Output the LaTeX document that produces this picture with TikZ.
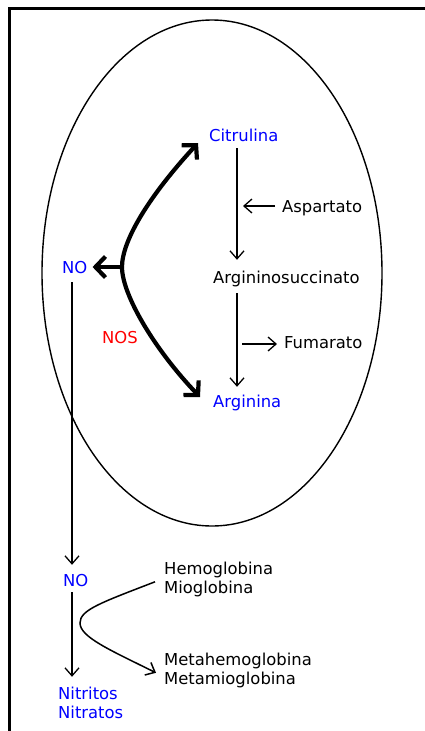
\documentclass[tikz,border=0pt]{standalone}
\usepackage{fontspec}
\setmainfont{DejaVu Sans}
\usetikzlibrary{arrows.meta,shapes.geometric}
\definecolor{nblue}{RGB}{0,0,255}
\definecolor{nred}{RGB}{255,0,0}
\begin{document}
\begin{tikzpicture}[x=1pt,y=-1pt,
  lbl/.style={inner sep=0pt, anchor=base west, text height=12pt, text depth=4pt,
              font=\fontsize{16.4}{19}\selectfont},
  bluelbl/.style={lbl, text=nblue},
  thinarrow/.style={line width=1.3pt, -{Straight Barb[length=8pt,width=14pt]}},
  thickarrow/.style={line width=4.2pt, -{Straight Barb[length=10pt,width=21pt]}},
  curvearrow/.style={line width=1.5pt, -{Straight Barb[length=8pt,width=14pt]}}]
\useasboundingbox (0,0) rectangle (425,731);
% frame
\draw[line width=3pt] (9.5,731) -- (9.5,8) -- (425,8);
% cell
\node[ellipse, draw, line width=1.4pt, minimum width=340pt, minimum height=506pt, inner sep=0pt] (cell) at (212,273) {};
% labels
\node[bluelbl] (cit) at (209,141) {Citrulina};
\node[lbl] (asp) at (282,212) {Aspartato};
\node[lbl] (argsuc) at (213,283) {Argininosuccinato};
\node[lbl] (fum) at (284,348) {Fumarato};
\node[bluelbl] (arg) at (213,407) {Arginina};
\node[bluelbl] (no1) at (62,273) {NO};
\node[lbl, text=nred] (nos) at (102,343) {NOS};
\node[bluelbl] (no2) at (63,586) {NO};
\node[bluelbl] (nitritos) at (58,699) {Nitritos};
\node[bluelbl] (nitratos) at (58,718) {Nitratos};
\node[lbl] (hemo) at (164,574) {Hemoglobina};
\node[lbl] (mio) at (164,593) {Mioglobina};
\node[lbl] (metahemo) at (164,665) {Metahemoglobina};
\node[lbl] (metamio) at (164,684) {Metamioglobina};
% urea cycle arrows
\draw[thinarrow] ([xshift=28pt,yshift=-3pt]cit.south west) -- ([xshift=24pt,yshift=11pt]argsuc.north west);
\draw[thinarrow] ([xshift=24pt,yshift=-6pt]argsuc.south west) -- ([xshift=24pt,yshift=8pt]arg.north west);
\draw[thinarrow] ([xshift=-7pt,yshift=2pt]asp.west) -- ([xshift=-39pt,yshift=2pt]asp.west);
\draw[thinarrow] ([xshift=-42pt]fum.west) -- ([xshift=-7pt]fum.west);
% NOS reaction
\coordinate (mid) at (122,267);
\draw[thickarrow] (mid) .. controls (122,240) and (150,195) .. ([xshift=-11pt,yshift=-6pt]cit.west);
\draw[thickarrow] (mid) .. controls (122,295) and (155,350) .. ([xshift=-13pt,yshift=6pt]arg.west);
\draw[thickarrow] (mid) -- ([xshift=5pt,yshift=2pt]no1.east);
% NO pathway
\draw[thinarrow] ([xshift=10pt,yshift=-5pt]no1.south west) -- ([xshift=9pt,yshift=9pt]no2.north west);
\draw[thinarrow] ([xshift=9pt,yshift=-2pt]no2.south west) -- ([xshift=14pt,yshift=10pt]nitritos.north west);
\draw[curvearrow] ([xshift=-9pt,yshift=-1pt]mio.north west) .. controls (100,603) and (80,610) .. (80,623)
   .. controls (80,637) and (110,650) .. ([xshift=-8pt,yshift=-1pt]metamio.north west);
\end{tikzpicture}
\end{document}
